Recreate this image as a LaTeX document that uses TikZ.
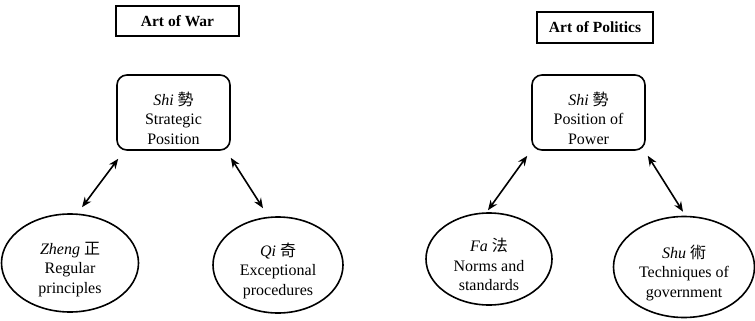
\documentclass[tikz,border=0pt]{standalone}
\usepackage{fontspec}
\setmainfont{Liberation Serif}
\newfontfamily\cjk{Noto Sans CJK TC}
\usetikzlibrary{shapes.geometric,arrows.meta}
% pushes the text of a node a little below its centre
\newcommand{\drop}{\rule{0pt}{25pt}}

\begin{document}
\begin{tikzpicture}[x=1pt,y=-1pt,
  title/.style={draw,line width=1.8pt,inner sep=0pt,font=\fontsize{15.5}{19}\selectfont\bfseries},
  shibox/.style={draw,line width=1.6pt,rounded corners=10pt,align=center,inner sep=0pt,
    minimum width=113pt,minimum height=75pt,font=\fontsize{16}{19.5}\selectfont},
  oval/.style={draw,ellipse,line width=1.6pt,align=center,inner sep=0pt,
    font=\fontsize{16}{19.5}\selectfont},
  arr/.style={{Stealth[length=10pt,width=8pt]}-{Stealth[length=10pt,width=8pt]},line width=1.6pt}]
\useasboundingbox (0,0) rectangle (755,321);

% Art of War
\node[title,minimum width=123pt,minimum height=30pt] (war) at (177.5,21) {Art of War};
\node[shibox] (shiw) at (173.5,112.5) {\drop\textit{Shi} {\cjk 勢}\\Strategic\\Position};
\node[oval,minimum width=137pt,minimum height=98pt] (zheng) at (70,263)
  {\drop\textit{Zheng} {\cjk 正}\\Regular\\principles};
\node[oval,minimum width=130pt,minimum height=96pt] (qi) at (278,265)
  {\drop\textit{Qi} {\cjk 奇}\\Exceptional\\procedures};
\draw[arr] ([xshift=12pt,yshift=6pt]zheng.north) -- ([xshift=2pt,yshift=-8pt]shiw.south west);
\draw[arr] ([yshift=-7pt]shiw.south east) -- ([xshift=-15pt,yshift=8pt]qi.north);

% Art of Politics
\node[title,minimum width=116pt,minimum height=31pt] (pol) at (595,27.5) {Art of Politics};
\node[shibox] (shir) at (588.5,112.5) {\drop\textit{Shi} {\cjk 勢}\\Position of\\Power};
\node[oval,minimum width=126pt,minimum height=92pt] (fa) at (489,259)
  {\drop\textit{Fa} {\cjk 法}\\Norms and\\standards};
\node[oval,minimum width=141pt,minimum height=101pt] (shu) at (684,267)
  {\drop\textit{Shu} {\cjk 術}\\Techniques of\\government};
\draw[arr] ([xshift=-1pt,yshift=2pt]fa.north) -- ([xshift=-4pt,yshift=-5pt]shir.south west);
\draw[arr] ([xshift=2pt,yshift=-5pt]shir.south east) -- ([xshift=-1pt,yshift=4pt]shu.north);
\end{tikzpicture}
\end{document}
